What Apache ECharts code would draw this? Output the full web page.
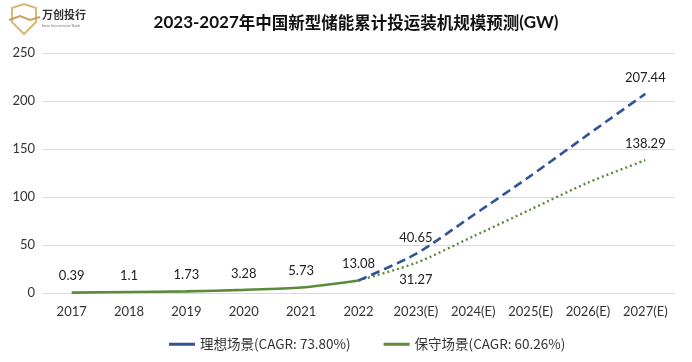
<!DOCTYPE html>
<html>
<head>
<meta charset="utf-8">
<script src="https://cdn.jsdelivr.net/npm/echarts@6/dist/echarts.min.js"></script>
<style>html,body{margin:0;padding:0;background:#fff;}#c{width:692px;height:362px;}</style>
</head>
<body>
<div id="c"></div>
<script>
const categories = ['2017','2018','2019','2020','2021','2022','2023(E)','2024(E)','2025(E)','2026(E)','2027(E)'];
const historyValues = [0.39, 1.1, 1.73, 3.28, 5.73, 13.08];
const idealValues = [13.08, 40.65, 81, 122, 165, 207.44];      // 2022 .. 2027(E)
const conservValues = [13.08, 31.27, 59, 87, 115, 138.29];     // 2022 .. 2027(E)
const yTicks = [0, 50, 100, 150, 200, 250];
const idealName = '理想场景(CAGR: 73.80%)';
const conservName = '保守场景(CAGR: 60.26%)';
const labeledForecast = ['2023(E)', '2027(E)'];

const BLUE = '#2f5597';
const GREEN = '#5b8a3a';
const FONT = 'Lato, "Open Sans", sans-serif';

const offset = categories.length - idealValues.length;
function forecastData(vals, pos) {
  const arr = categories.map(() => '-');
  vals.forEach((v, i) => {
    const cat = categories[offset + i];
    arr[offset + i] = {
      value: v,
      label: { show: labeledForecast.includes(cat), position: (pos === 'bottom' && cat === '2023(E)') ? 'bottom' : 'top' }
    };
  });
  return arr;
}
const histData = categories.map((c, i) => i < historyValues.length ? historyValues[i] : '-');

const labelStyle = { fontFamily: FONT, fontSize: 13, color: '#222', distance: 10 };

const chart = echarts.init(document.getElementById('c'), null, { renderer: 'canvas' });
chart.setOption({
  backgroundColor: '#fff',
  animation: false,
  title: {
    text: '{a|2023-2027}{b|年中国新型储能累计投运装机规模预测}{a|(GW)}',
    left: 351, top: 9, textAlign: 'center',
    textStyle: {
      rich: {
        a: { fontFamily: FONT, fontWeight: 'bold', fontSize: 17, color: '#111' },
        b: { fontFamily: '"Noto Sans CJK SC"', fontWeight: 'bold', fontSize: 16.5, color: '#111' }
      }
    }
  },
  graphic: [
    { type: 'polygon', shape: { points: [[12,8],[24,4],[36,8],[36,22],[24,34],[12,22]] },
      style: { fill: 'none', stroke: '#d9b77a', lineWidth: 2 } },
    { type: 'polyline', shape: { points: [[9,20],[20,16],[30,20],[40,17]] },
      style: { fill: 'none', stroke: '#c9a25e', lineWidth: 2 } },
    { type: 'text', left: 42, top: 9,
      style: { text: '万创投行', fontFamily: '"Noto Sans CJK SC"', fontWeight: 'bold', fontSize: 11, fill: '#333' } },
    { type: 'text', left: 42, top: 24,
      style: { text: 'Inno Investment Bank', fontFamily: FONT, fontSize: 4, fill: '#777' } }
  ],
  legend: {
    bottom: 6, left: 164,
    icon: 'rect', itemWidth: 26, itemHeight: 3, itemGap: 33,
    data: [
      { name: idealName, itemStyle: { color: BLUE, opacity: 1 } },
      { name: conservName, itemStyle: { color: GREEN, opacity: 1 } }
    ],
    textStyle: { fontFamily: '"Noto Sans CJK SC", Lato, sans-serif', fontSize: 13.5, color: '#333' }
  },
  grid: { left: 43, right: 18, top: 53, bottom: 69 },
  xAxis: {
    type: 'category', data: categories, boundaryGap: true,
    axisLine: { lineStyle: { color: '#d9d9d9', width: 1 } },
    axisTick: { show: false },
    axisLabel: { fontFamily: FONT, fontSize: 13, color: '#333', margin: 12, interval: 0 }
  },
  yAxis: {
    type: 'value', min: yTicks[0], max: yTicks[yTicks.length - 1], interval: 50,
    axisLine: { show: false }, axisTick: { show: false },
    axisLabel: { fontFamily: FONT, fontSize: 13, color: '#333', margin: 8 },
    splitLine: { lineStyle: { color: '#d9d9d9', width: 1 } }
  },
  series: [
    {
      name: idealName, type: 'line', data: forecastData(idealValues, 'top'),
      smooth: 0.25, symbol: 'circle', symbolSize: 0.01, showSymbol: true, z: 3,
      lineStyle: { color: BLUE, width: 2.6, type: [9, 5] },
      itemStyle: { color: BLUE },
      label: labelStyle
    },
    {
      name: conservName, type: 'line', data: forecastData(conservValues, 'bottom'),
      smooth: 0.25, symbol: 'circle', symbolSize: 0.01, showSymbol: true, z: 2,
      lineStyle: { color: GREEN, width: 2.4, type: [2, 3] },
      itemStyle: { color: GREEN },
      label: labelStyle
    },
    {
      name: conservName, type: 'line', data: histData,
      smooth: 0.25, symbol: 'circle', symbolSize: 0.01, showSymbol: true, z: 4,
      lineStyle: { color: GREEN, width: 2.6, type: 'solid' },
      itemStyle: { color: GREEN },
      label: Object.assign({ show: true, position: 'top' }, labelStyle)
    }
  ]
});
</script>
</body>
</html>
